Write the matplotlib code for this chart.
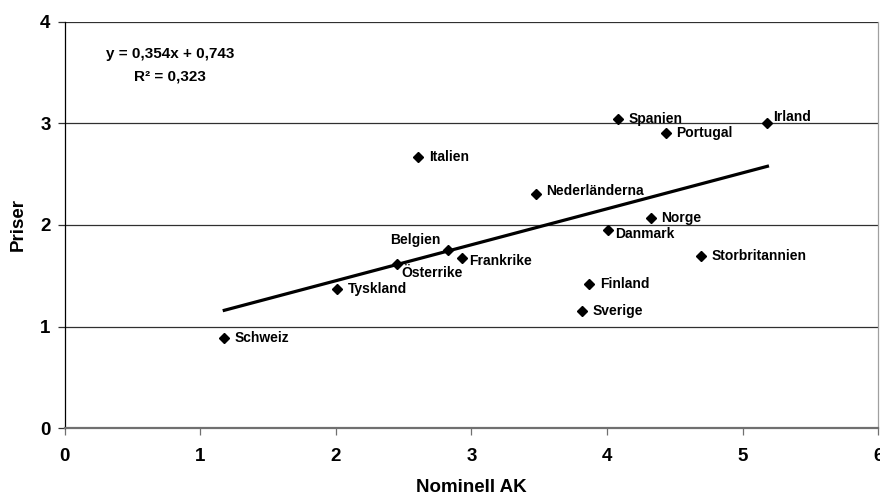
import matplotlib.pyplot as plt
import numpy as np

plt.rcParams['font.family'] = ['Liberation Sans', 'DejaVu Sans']
plt.rcParams['font.weight'] = 'bold'

# data
countries = ['Schweiz', 'Tyskland', 'Österrike', 'Belgien', 'Frankrike', 'Italien',
             'Nederländerna', 'Spanien', 'Portugal', 'Irland', 'Norge', 'Danmark',
             'Storbritannien', 'Finland', 'Sverige']
nominell_ak = [1.178, 2.012, 2.454, 2.826, 2.931, 2.609,
               3.477, 4.084, 4.436, 5.183, 4.323, 4.010,
               4.694, 3.870, 3.818]
priser = [0.885, 1.370, 1.616, 1.753, 1.672, 2.665,
          2.304, 3.048, 2.907, 2.999, 2.065, 1.950,
          1.694, 1.419, 1.153]

# trendline as given on the chart
slope = 0.354
intercept = 0.743

# label offsets (points) and alignment, per country
label_pos = {
    'Belgien': ((-5, 7), 'right'),
    'Österrike': ((3, -6.5), 'left'),
    'Irland': ((4, 5), 'left'),
    'Danmark': ((5, -3), 'left'),
    'Frankrike': ((5, -2), 'left'),
    'Nederländerna': ((7, 2), 'left'),
}

fig = plt.figure(figsize=(8.8, 4.95), dpi=100)
ax = fig.add_axes([0.0733, 0.135, 0.9247, 0.821])

ax.set_xlim(0, 6)
ax.set_ylim(0, 4)

for yv in [1, 2, 3, 4]:
    ax.axhline(yv, color='#303030', lw=0.9, zorder=1)

xs = np.array([min(nominell_ak), max(nominell_ak)])
ax.plot(xs, slope * xs + intercept, color='black', lw=2.3, zorder=2)

ax.plot(nominell_ak, priser, linestyle='none', marker='D', ms=5.5,
        color='black', zorder=3)

for name, xv, yv in zip(countries, nominell_ak, priser):
    off, ha = label_pos.get(name, ((7.5, 0), 'left'))
    ax.annotate(name, (xv, yv), xytext=off, textcoords='offset points',
                ha=ha, va='center', fontsize=10, fontweight='bold')

ax.text(0.78, 3.68, 'y = 0,354x + 0,743', ha='center', va='center',
        fontsize=11, fontweight='bold')
ax.text(0.78, 3.46, 'R² = 0,323', ha='center', va='center',
        fontsize=11, fontweight='bold')

ax.set_xticks(range(0, 7))
ax.set_yticks(range(0, 5))
ax.tick_params(axis='both', direction='out', length=5, width=0.9,
               labelsize=13.5, color='#303030')
ax.tick_params(axis='x', pad=9, color='#707070')
ax.tick_params(axis='y', pad=5)
for lab in ax.get_xticklabels() + ax.get_yticklabels():
    lab.set_fontweight('bold')

ax.set_xlabel('Nominell AK', fontsize=13.5, fontweight='bold', labelpad=10)
ax.set_ylabel('Priser', fontsize=13.5, fontweight='bold', labelpad=10)

ax.spines['top'].set_visible(False)
ax.spines['right'].set_color('#a0a0a0')
ax.spines['left'].set_color('black')
ax.spines['left'].set_linewidth(0.9)
ax.spines['right'].set_linewidth(0.9)
ax.spines['bottom'].set_color('#707070')
ax.spines['bottom'].set_linewidth(1.6)

fig.savefig('out.png', dpi=100)
